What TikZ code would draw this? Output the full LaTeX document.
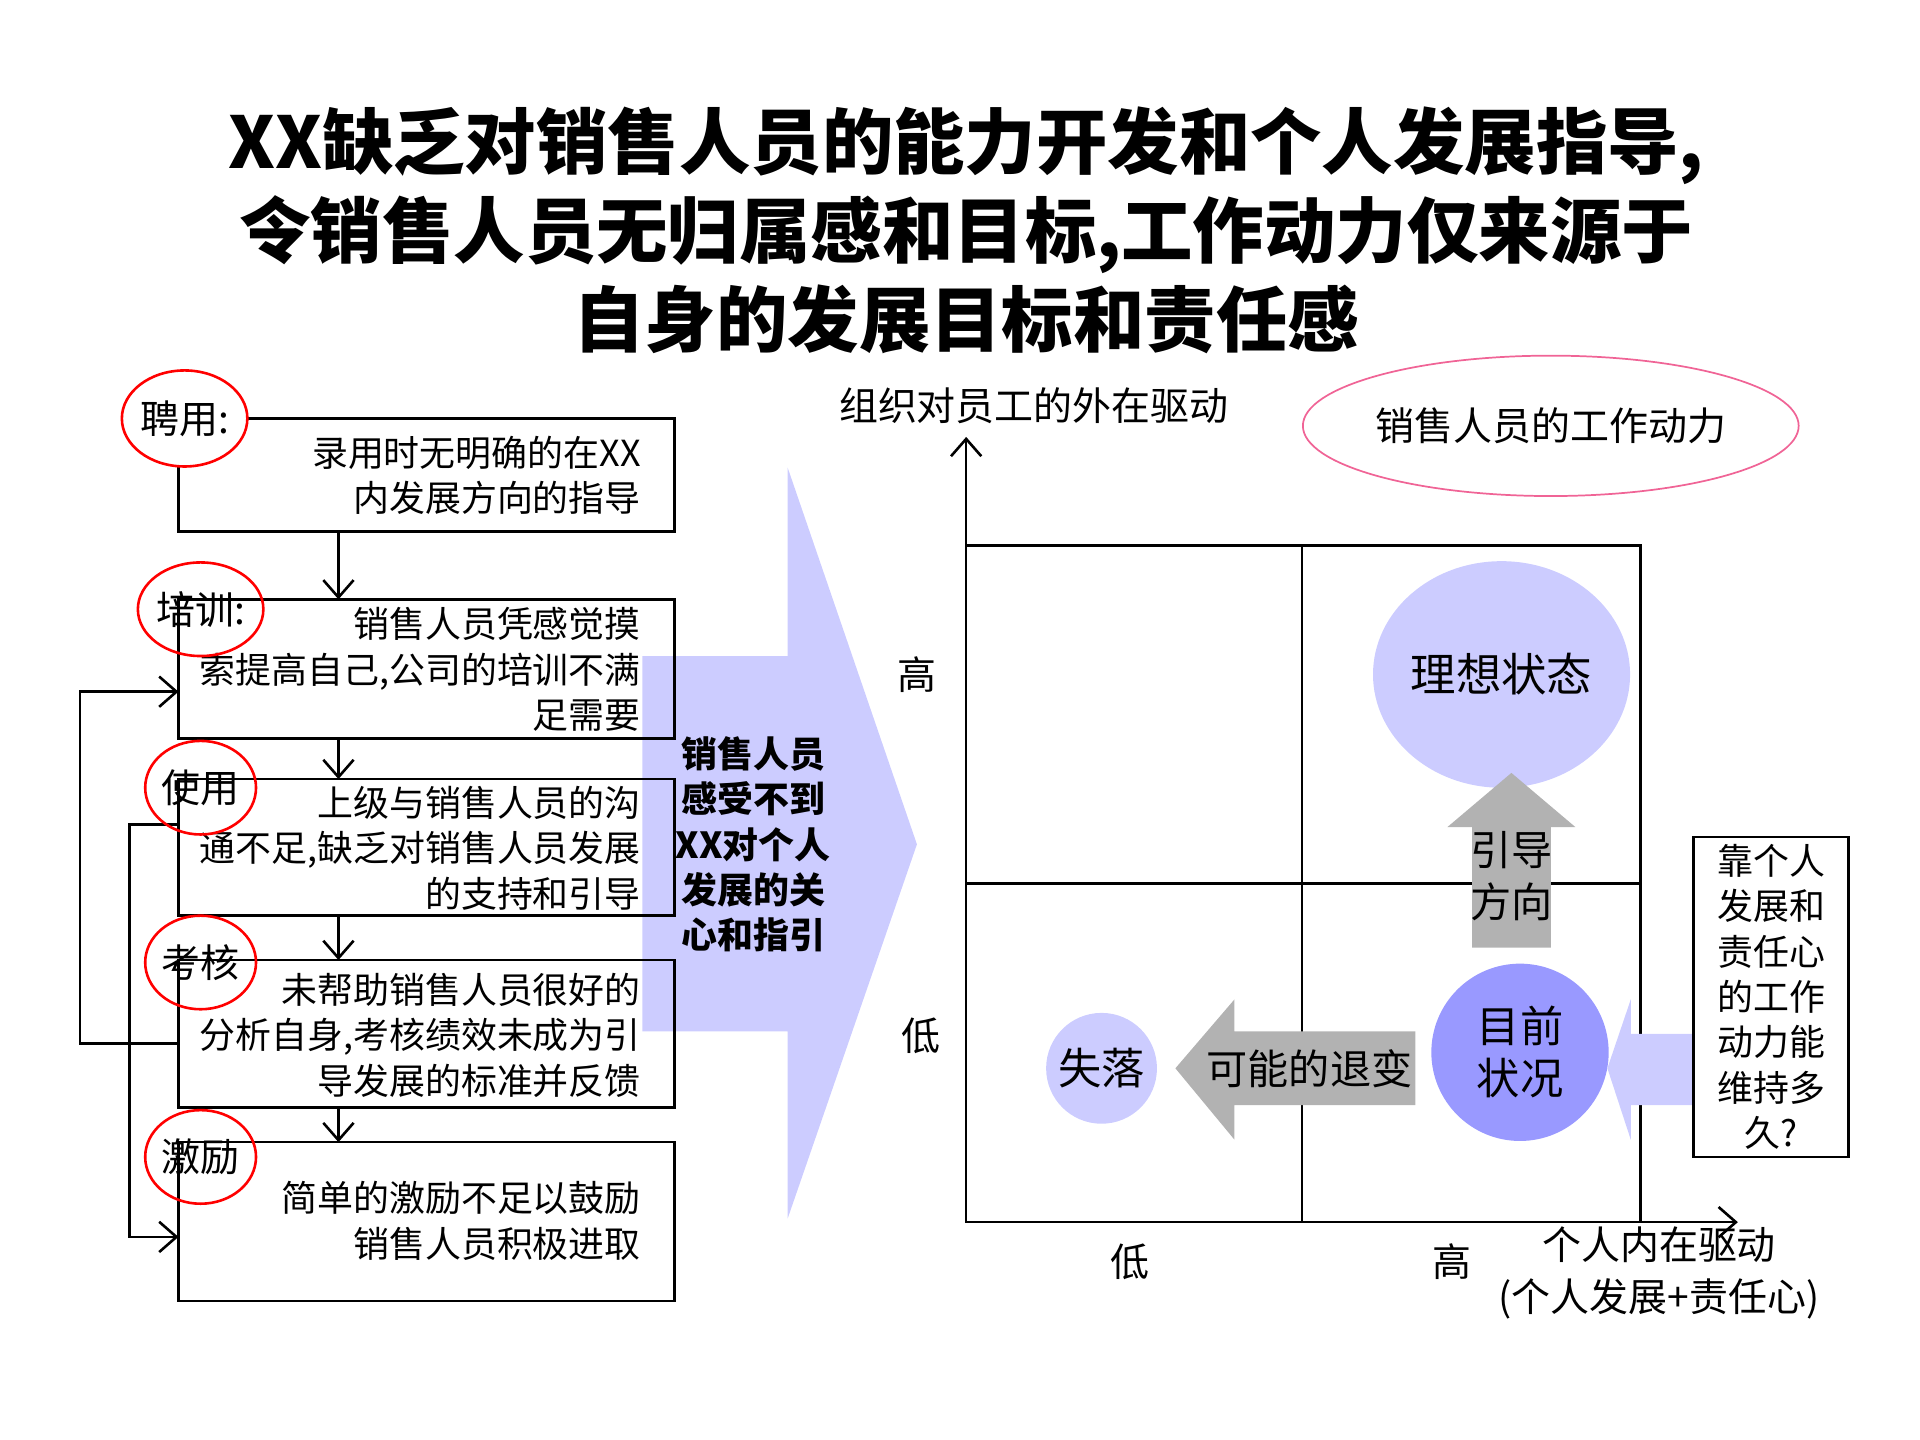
\documentclass[tikz,border=0pt]{standalone}
\usepackage{fontspec}
\setmainfont{Noto Sans CJK SC}
\usetikzlibrary{arrows.meta,shapes.geometric}
\definecolor{lb}{HTML}{CCCCFF}
\definecolor{mb}{HTML}{9999FF}
\definecolor{gr}{HTML}{B2B2B2}
\begin{document}
\begin{tikzpicture}[x=0.01cm,y=-0.01cm,
  bx/.style={draw,line width=0.6pt},
  body/.style={font=\fontsize{8.3}{10.5}\selectfont},
  tag/.style={draw=red,ellipse,line width=0.6pt,minimum width=0.9cm,minimum height=0.76cm,inner sep=0pt,font=\fontsize{9}{10}\selectfont},
  arr/.style={-{Straight Barb[length=4pt,width=7pt]},line width=0.6pt}]
\useasboundingbox (0,0) rectangle (1560,1170);
% title
\node[font=\bfseries\fontsize{16.5}{20.5}\selectfont,align=center] (title) at (785,187)
 {XX缺乏对销售人员的能力开发和个人发展指导,\\令销售人员无归属感和目标,工作动力仅来源于\\自身的发展目标和责任感};
% big arrow
\fill[lb] (522,533)--(640,533)--(640,380)--(745,686)--(640,990)--(640,838)--(522,838)--cycle;
\node[font=\bfseries\fontsize{8.3}{10.5}\selectfont,align=center] (mid) at (612,686) {销售人员\\感受不到\\XX对个人\\发展的关\\心和指引};
% left boxes
\draw[bx] (145,340) rectangle (548,432);
\draw[bx] (145,487) rectangle (548,600);
\draw[bx] (145,633) rectangle (548,744);
\draw[bx] (145,780) rectangle (548,900);
\draw[bx] (145,928) rectangle (548,1057);
\node[body,align=right,anchor=east] (t1) at (533,386) {录用时无明确的在XX\\内发展方向的指导};
\node[body,align=right,anchor=east] (t2) at (533,544) {销售人员凭感觉摸\\索提高自己,公司的培训不满\\足需要};
\node[body,align=right,anchor=east] (t3) at (533,689) {上级与销售人员的沟\\通不足,缺乏对销售人员发展\\的支持和引导};
\node[body,align=right,anchor=east] (t4) at (533,841) {未帮助销售人员很好的\\分析自身,考核绩效未成为引\\导发展的标准并反馈};
\node[body,align=right,anchor=east] (t5) at (533,992) {简单的激励不足以鼓励\\销售人员积极进取};
\foreach \a/\b in {432/487,600/633,744/780,900/928}
  \draw[arr] (275,\a) -- (275,\b);
\draw[arr] (145,848) -- (65,848) -- (65,562) -- (145,562);
\draw[arr] (145,670) -- (105,670) -- (105,1005) -- (145,1005);
\node[tag,fill=white,minimum height=0.78cm] (e1) at (150,340) {聘用:};
\node[tag] (e2) at (163,495) {培训:};
\node[tag] (e3) at (163,640) {使用};
\node[tag] (e4) at (163,782) {考核};
\node[tag] (e5) at (163,940) {激励};
% matrix
\draw[line width=0.6pt] (785,443) rectangle (1333,993);
\draw[line width=0.6pt] (1058,443)--(1058,993) (785,718)--(1333,718);
\coordinate (o) at (785,993);
\coordinate (yt) at (785,355);
\coordinate (xt) at (1412,993);
\draw[arr] (o)--(yt);
\draw[arr] (o)--(xt);
\node[font=\fontsize{9}{10}\selectfont] (yl) at (840,330) {组织对员工的外在驱动};
\node[font=\fontsize{9}{10}\selectfont] (h1) at (745,548) {高};
\node[font=\fontsize{9}{10}\selectfont] (l1) at (748,842) {低};
\node[font=\fontsize{9}{10}\selectfont] (l2) at (918,1025) {低};
\node[font=\fontsize{9}{10}\selectfont] (h2) at (1180,1025) {高};
\node[font=\fontsize{9}{12}\selectfont,align=center] (xl) at (1348,1034) {个人内在驱动\\(个人发展+责任心)};
\node[draw={rgb,255:red,240;green,100;blue,150},ellipse,minimum width=3.24cm,minimum height=1.14cm,inner sep=0pt,font=\fontsize{9}{10}\selectfont] (pk) at (1260,346) {销售人员的工作动力};
\node[ellipse,fill=lb,minimum width=1.94cm,minimum height=1.84cm,inner sep=0pt,font=\fontsize{10.5}{12}\selectfont] (ideal) at (1220,548) {理想状态};
\fill[gr] (1196,770)--(1196,672)--(1176,672)--(1228,628)--(1280,672)--(1260,672)--(1260,770)--cycle;
\node[font=\fontsize{9.5}{12}\selectfont,align=center] (dir) at (1228,712) {引导\\方向};
\fill[gr] (1150,838)--(1003,838)--(1003,812)--(955,868)--(1003,926)--(1003,898)--(1150,898)--cycle;
\node[font=\fontsize{9.5}{11}\selectfont] (back) at (1064,868) {可能的退变};
\node[circle,fill=lb,minimum size=0.9cm,inner sep=0pt,font=\fontsize{10}{11}\selectfont] (lost) at (895,868) {失落};
\node[circle,fill=mb,minimum size=1.44cm,inner sep=0pt,font=\fontsize{10}{12}\selectfont,align=center] (now) at (1235,855) {目前\\状况};
\fill[lb] (1376,840)--(1325,840)--(1325,812)--(1306,868)--(1325,926)--(1325,898)--(1376,898)--cycle;
\node[draw,line width=0.6pt,minimum width=1.26cm,minimum height=2.6cm,inner sep=0pt,align=center,font=\fontsize{8.3}{10.5}\selectfont] (q) at (1439,810) {靠个人\\发展和\\责任心\\的工作\\动力能\\维持多\\久?};
\end{tikzpicture}
\end{document}
